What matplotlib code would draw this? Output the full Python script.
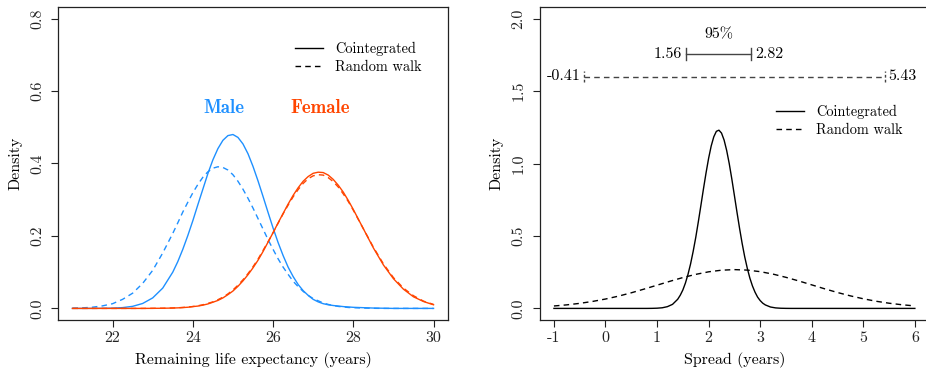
import matplotlib
matplotlib.use("Agg")
import matplotlib.pyplot as plt

plt.rcParams['font.family'] = ['cmr10', 'DejaVu Serif']
plt.rcParams['axes.unicode_minus'] = False
plt.rcParams['axes.formatter.use_mathtext'] = True

# ---- left panel: remaining life expectancy densities ----
life_x = [21.0, 21.25, 21.5, 21.75, 22.0, 22.25, 22.5, 22.75, 23.0, 23.25, 23.5,
          23.625, 23.75, 23.875, 24.0, 24.125, 24.25, 24.375, 24.5, 24.625, 24.75,
          24.875, 25.0, 25.125, 25.25, 25.375, 25.5, 25.625, 25.75, 25.875, 26.0,
          26.125, 26.25, 26.375, 26.5, 26.625, 26.75, 26.875, 27.0, 27.125, 27.25,
          27.375, 27.5, 27.625, 27.75, 27.875, 28.0,
          28.25, 28.5, 28.75, 29.0, 29.25, 29.5, 29.75, 30.0]
male_coint = [0.0, 0.0, 0.0001, 0.0003, 0.0008, 0.0022, 0.0057, 0.0136, 0.029, 0.056, 0.100,
              0.129, 0.163, 0.201, 0.242, 0.286, 0.329, 0.372, 0.410, 0.441, 0.464,
              0.477, 0.480, 0.472, 0.454, 0.427, 0.392, 0.352, 0.309, 0.265, 0.222,
              0.182, 0.146, 0.114, 0.088, 0.066, 0.049, 0.036, 0.025, 0.018, 0.013,
              0.010, 0.008, 0.0065, 0.005, 0.004, 0.003,
              0.002, 0.001, 0.0005, 0.0, 0.0, 0.0, 0.0, 0.0]
male_rw = [0.0006, 0.0015, 0.0033, 0.007, 0.013, 0.025, 0.042, 0.069, 0.105, 0.153, 0.207,
           0.236, 0.266, 0.293, 0.319, 0.342, 0.362, 0.377, 0.387, 0.391, 0.389,
           0.382, 0.369, 0.351, 0.329, 0.304, 0.277, 0.248, 0.219, 0.190, 0.163,
           0.137, 0.114, 0.094, 0.075, 0.060, 0.047, 0.036, 0.027, 0.021, 0.015,
           0.011, 0.008, 0.0055, 0.004, 0.0026, 0.002,
           0.001, 0.0003, 0.0, 0.0, 0.0, 0.0, 0.0, 0.0]
female_coint = [0.0, 0.0, 0.0, 0.0, 0.0, 0.0, 0.0, 0.0, 0.0002, 0.0004, 0.001,
                0.0015, 0.0023, 0.0032, 0.005, 0.0064, 0.009, 0.0123, 0.017, 0.022, 0.029,
                0.038, 0.048, 0.061, 0.076, 0.093, 0.112, 0.133, 0.157, 0.183, 0.209,
                0.236, 0.262, 0.288, 0.312, 0.333, 0.351, 0.364, 0.373, 0.376, 0.375,
                0.368, 0.356, 0.340, 0.321, 0.298, 0.273,
                0.220, 0.167, 0.120, 0.082, 0.053, 0.032, 0.019, 0.010]
female_rw = [0.0, 0.0, 0.0, 0.0, 0.0, 0.0, 0.0, 0.0, 0.0002, 0.0005, 0.0012,
             0.0018, 0.0026, 0.0037, 0.0052, 0.0073, 0.010, 0.0138, 0.018, 0.024, 0.031,
             0.040, 0.051, 0.064, 0.079, 0.096, 0.115, 0.136, 0.160, 0.184, 0.209,
             0.235, 0.261, 0.285, 0.308, 0.328, 0.345, 0.358, 0.366, 0.369, 0.368,
             0.361, 0.350, 0.335, 0.316, 0.295, 0.271,
             0.220, 0.169, 0.123, 0.085, 0.056, 0.035, 0.020, 0.011]

# ---- right panel: spread densities ----
spread_x_coint = [-1.0, 0.0, 0.5, 0.8, 0.9, 1.0, 1.1, 1.2, 1.3, 1.4,
                  1.45, 1.5, 1.55, 1.6, 1.65, 1.7, 1.75, 1.8, 1.85, 1.9,
                  1.95, 2.0, 2.05, 2.1, 2.15, 2.2, 2.25, 2.3, 2.35, 2.4,
                  2.45, 2.5, 2.55, 2.6, 2.65, 2.7, 2.75, 2.8, 2.85, 2.9,
                  2.95, 3.0, 3.05, 3.1, 3.2, 3.3, 3.4, 3.5, 3.6, 4.0, 5.0, 6.0]
spread_coint = [0.0, 0.0, 0.0, 0.0, 0.0004, 0.0015, 0.0043, 0.012, 0.028, 0.063,
                0.091, 0.127, 0.175, 0.235, 0.307, 0.393, 0.489, 0.597, 0.710, 0.825,
                0.935, 1.036, 1.121, 1.184, 1.222, 1.230, 1.210, 1.162, 1.090, 0.999,
                0.893, 0.779, 0.664, 0.553, 0.449, 0.356, 0.277, 0.209, 0.155, 0.112,
                0.078, 0.054, 0.036, 0.024, 0.0096, 0.0035, 0.0011, 0.0003, 0.0, 0.0, 0.0, 0.0]
spread_x_rw = [-1.0, -0.75, -0.5, -0.25, 0.0, 0.25, 0.5, 0.75, 1.0, 1.25,
               1.5, 1.75, 2.0, 2.25, 2.5, 2.75, 3.0, 3.25, 3.5, 3.75,
               4.0, 4.25, 4.5, 4.75, 5.0, 5.25, 5.5, 5.75, 6.0]
spread_rw = [0.0167, 0.0245, 0.0348, 0.0482, 0.0647, 0.0845, 0.1077, 0.1335, 0.1603, 0.1872,
             0.2129, 0.2349, 0.2525, 0.2637, 0.2677, 0.2643, 0.2536, 0.2366, 0.2144, 0.1894,
             0.1624, 0.1353, 0.1097, 0.0865, 0.0664, 0.0493, 0.0358, 0.0252, 0.0172]
ci_coint = [1.56, 2.82]
ci_rw = [-0.41, 5.43]

life_ticks = [22, 24, 26, 28, 30]
life_yticks = [0.0, 0.2, 0.4, 0.6, 0.8]
spread_ticks = [-1, 0, 1, 2, 3, 4, 5, 6]
spread_yticks = [0.0, 0.5, 1.0, 1.5, 2.0]

BLUE = '#1E90FF'
RED = '#FF4500'
DASH = (0, (4, 3))
FS = 11.5
LEG_FS = 10.3


def style_axes(ax, xticks, yticks):
    ax.set_xticks(xticks)
    ax.set_xticklabels([str(t) for t in xticks])
    ax.set_yticks(yticks)
    ax.set_yticklabels(['%.1f' % t for t in yticks])
    ax.tick_params(direction='out', length=5, width=0.8, labelsize=FS, colors='#222222')
    ax.tick_params(axis='x', pad=3)
    ax.tick_params(axis='y', pad=5, labelrotation=90)
    for lab in ax.get_yticklabels():
        lab.set_va('center')
    for s in ax.spines.values():
        s.set_linewidth(0.9)
        s.set_color('#222222')


def add_legend(ax, anchor):
    ax.plot([], [], color='black', lw=1.0, label='Cointegrated')
    ax.plot([], [], color='black', lw=1.0, linestyle=DASH, label='Random walk')
    ax.legend(loc='upper left', bbox_to_anchor=anchor, frameon=False,
              fontsize=LEG_FS, borderpad=0, handlelength=1.95, handletextpad=0.85,
              labelspacing=0.3)


fig = plt.figure(figsize=(9.26, 3.73), dpi=100)
ax1 = fig.add_axes([58 / 926, 53 / 373, 390 / 926, 313 / 373])
ax2 = fig.add_axes([539.5 / 926, 53 / 373, 389.8 / 926, 313 / 373])

# left
ax1.plot(life_x, male_coint, color=BLUE, lw=1.0)
ax1.plot(life_x, male_rw, color=BLUE, lw=1.0, linestyle=DASH)
ax1.plot(life_x, female_coint, color=RED, lw=1.0)
ax1.plot(life_x, female_rw, color=RED, lw=1.0, linestyle=DASH)
ax1.set_xlim(20.64, 30.36)
ax1.set_ylim(-0.032, 0.832)
style_axes(ax1, life_ticks, life_yticks)
ax1.set_xlabel('Remaining life expectancy (years)', fontsize=FS, labelpad=5)
ax1.set_ylabel('Density', fontsize=FS, labelpad=6)
ax1.text(24.77, 0.554, 'Male', color=BLUE, fontsize=13.5, family='cmb10',
         ha='center', va='center')
ax1.text(27.18, 0.554, 'Female', color=RED, fontsize=13.5, family='cmb10',
         ha='center', va='center')
add_legend(ax1, (0.5895, 0.911))

# right
ax2.plot(spread_x_coint, spread_coint, color='black', lw=1.0)
ax2.plot(spread_x_rw, spread_rw, color='black', lw=1.0, linestyle=DASH)
ax2.set_xlim(-1.28, 6.28)
ax2.set_ylim(-0.08, 2.08)
style_axes(ax2, spread_ticks, spread_yticks)
ax2.set_xlabel('Spread (years)', fontsize=FS, labelpad=5)
ax2.set_ylabel('Density', fontsize=FS, labelpad=6)

y_ci1, y_ci2, bar = 1.757, 1.60, 0.04
ax2.plot(ci_coint, [y_ci1, y_ci1], color='#444444', lw=1.0)
for v in ci_coint:
    ax2.plot([v, v], [y_ci1 - bar, y_ci1 + bar], color='#444444', lw=1.0)
ax2.plot(ci_rw, [y_ci2, y_ci2], color='#444444', lw=1.0, linestyle=DASH)
for v in ci_rw:
    ax2.plot([v, v], [y_ci2 - bar, y_ci2 + bar], color='#444444', lw=1.0,
             linestyle=(0, (2, 1.5)))
ax2.annotate('%.2f' % ci_coint[0], (ci_coint[0], y_ci1), xytext=(-3, 0),
             textcoords='offset points', ha='right', va='center', fontsize=FS)
ax2.annotate('%.2f' % ci_coint[1], (ci_coint[1], y_ci1), xytext=(3, 0),
             textcoords='offset points', ha='left', va='center', fontsize=FS)
ax2.annotate('%.2f' % ci_rw[0], (ci_rw[0], y_ci2), xytext=(-3, 0),
             textcoords='offset points', ha='right', va='center', fontsize=FS)
ax2.annotate('%.2f' % ci_rw[1], (ci_rw[1], y_ci2), xytext=(2, 0),
             textcoords='offset points', ha='left', va='center', fontsize=FS)
ax2.text(sum(ci_coint) / 2, 1.89, '95%', ha='center', va='center', fontsize=FS)
add_legend(ax2, (0.589, 0.712))

fig.savefig('out.png', dpi=100)
